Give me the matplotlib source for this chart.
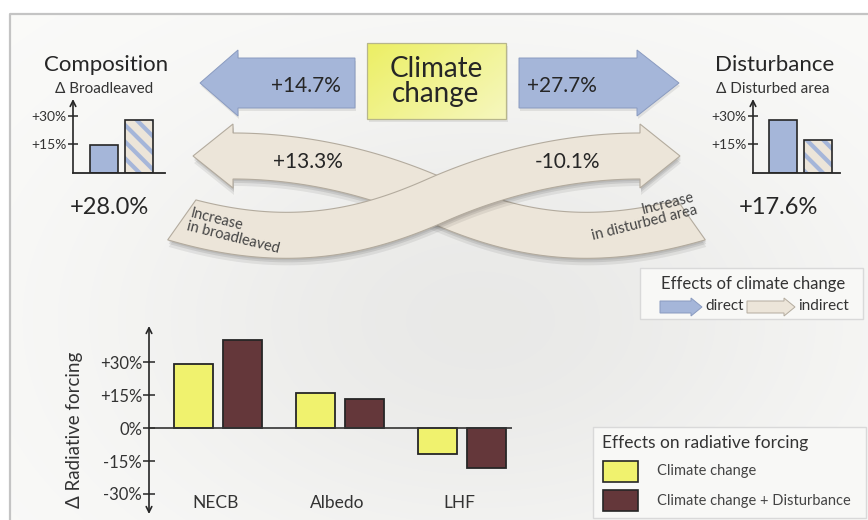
import numpy as np
import matplotlib.pyplot as plt
from matplotlib.patches import Polygon, Rectangle

plt.rcParams['font.family'] = ['Lato', 'DejaVu Sans']
plt.rcParams['hatch.linewidth'] = 3.0

W, H = 868, 520

# ---- data ----
direct_comp = 14.7       # climate change -> broadleaved
direct_dist = 27.7       # climate change -> disturbed area
indirect_comp = 13.3     # via disturbance
indirect_dist = -10.1    # via broadleaved
comp_bars = [direct_comp, direct_comp + indirect_comp]   # direct, total
dist_bars = [direct_dist, direct_dist + indirect_dist]
small_ticks = [15, 30]

rf_categories = ['NECB', 'Albedo', 'LHF']
rf_climate = [29, 16, -12]
rf_climate_dist = [40, 13, -18]
rf_ticks = [-30, -15, 0, 15, 30]

# colours
blue = '#a5b6d9'
blue_edge = '#8a9bc0'
beige = '#ece5d9'
beige_edge = '#b3ab9e'
yellow = '#f0f26e'
brown = '#64373a'
dark = '#262626'


def fmt(v):
    return '0%' if v == 0 else f'{v:+.0f}%'


fig = plt.figure(figsize=(W / 100, H / 100), dpi=100)
ax = fig.add_axes([0, 0, 1, 1])
ax.set_xlim(0, W)
ax.set_ylim(H, 0)
ax.axis('off')

# background gradient inside the frame
yy, xx = np.mgrid[14:H, 10:W]
g = 0.985 - 0.07 * np.exp(-(((xx - 480) / 380.0) ** 2 + ((yy - 320) / 250.0) ** 2))
bg = np.dstack([g, g, g * 0.993])
ax.imshow(bg, extent=(10, W, H, 14), aspect='auto', zorder=0)
ax.plot([10, 10, W], [H, 14, 14], color='#c4c4c4', lw=1.6, zorder=1)
ax.set_xlim(0, W)
ax.set_ylim(H, 0)


def px_axes(x0, y0, x1, y1):
    a = fig.add_axes([x0 / W, 1 - y1 / H, (x1 - x0) / W, (y1 - y0) / H])
    a.set_facecolor('none')
    return a


def bez(p0, p1, p2, p3, n=80):
    p0, p1, p2, p3 = [np.array(q, float) for q in (p0, p1, p2, p3)]
    t = np.linspace(0, 1, n)[:, None]
    pts = (1 - t) ** 3 * p0 + 3 * (1 - t) ** 2 * t * p1 + 3 * (1 - t) * t ** 2 * p2 + t ** 3 * p3
    d = 3 * (1 - t) ** 2 * (p1 - p0) + 6 * (1 - t) * t * (p2 - p1) + 3 * t ** 2 * (p3 - p2)
    return pts, d


def ribbon(segs, w, head_len, head_w, skew=2):
    P, D = [], []
    for s in segs:
        p, d = bez(*s)
        P.append(p)
        D.append(d)
    P = np.vstack(P)
    D = np.vstack(D)
    D = D / np.linalg.norm(D, axis=1)[:, None]
    N = np.column_stack([-D[:, 1], D[:, 0]])
    side_a = P + N * w / 2
    side_b = P - N * w / 2
    # slanted tail cut: lower corner reaches further back
    step = np.linalg.norm(P[1] - P[0])
    back = P[0] - D[0] * step * skew
    if N[0, 1] > 0:      # side_a is the lower side
        side_a = np.vstack([back + N[0] * w / 2, side_a])
        side_b = side_b[skew:]
    else:
        side_b = np.vstack([back - N[0] * w / 2, side_b])
        side_a = side_a[skew:]
    end, de, ne = P[-1], D[-1], N[-1]
    tip = end + de * head_len
    return np.vstack([side_a, end + ne * head_w / 2, tip, end - ne * head_w / 2, side_b[::-1]])


# ---- indirect (twisted) arrows ----
right_segs = [[(182, 220), (290, 250), (365, 232), (437, 200)],
              [(437, 200), (505, 170), (575, 156), (640, 156)]]
left_segs = [[(873 - x, y) for x, y in s] for s in right_segs]

for segs in (left_segs, right_segs):
    poly = ribbon(segs, 46, 40, 64)
    for off, al in ((7, 0.07), (4, 0.09), (2, 0.08)):
        ax.add_patch(Polygon(poly + [1, off], closed=True, fc='k', alpha=al, lw=0, zorder=2))
    ax.add_patch(Polygon(poly, closed=True, fc=beige, ec=beige_edge, lw=0.8, zorder=2))

ax.text(308, 162, f'{indirect_comp:+.1f}%', fontsize=15, ha='center', va='center', color=dark, zorder=3)
ax.text(567, 162, f'{indirect_dist:+.1f}%', fontsize=15, ha='center', va='center', color=dark, zorder=3)
ax.text(192, 206, 'Increase\nin broadleaved', fontsize=10.5, rotation=-14, rotation_mode='anchor',
        ha='left', va='top', color='#444', linespacing=1.0, zorder=3)
ax.text(692, 190, 'Increase\nin disturbed area', fontsize=10.5, rotation=14, rotation_mode='anchor',
        ha='right', va='top', color='#444', linespacing=1.0, multialignment='right', zorder=3)

# ---- direct arrows ----
left_blue = [(200, 83), (238, 50), (238, 58), (355, 58), (355, 108), (238, 108), (238, 116)]
right_blue = [(679, 83), (637, 50), (637, 58), (519, 58), (519, 108), (637, 108), (637, 116)]
for pts in (left_blue, right_blue):
    arr = np.array(pts, float)
    ax.add_patch(Polygon(arr + [1, 3], closed=True, fc='k', alpha=0.08, lw=0, zorder=2))
    ax.add_patch(Polygon(arr, closed=True, fc=blue, ec=blue_edge, lw=0.7, zorder=2))
ax.text(306, 86, f'{direct_comp:+.1f}%', fontsize=15, ha='center', va='center', color=dark, zorder=3)
ax.text(562, 86, f'{direct_dist:+.1f}%', fontsize=15, ha='center', va='center', color=dark, zorder=3)

# ---- climate change box ----
gy, gx = np.mgrid[0:1:40j, 0:1:60j]
tt = (gx * 0.6 + gy * 0.4)[..., None]
c0 = np.array([236, 239, 100]) / 255
c1 = np.array([246, 247, 190]) / 255
ax.add_patch(Rectangle((369, 46), 139, 76, fc='k', alpha=0.08, lw=0, zorder=2))
ax.imshow(c0 * (1 - tt) + c1 * tt, extent=(367, 506, 119, 43), aspect='auto', zorder=2.5)
ax.add_patch(Rectangle((367, 43), 139, 76, fill=False, ec='#b7b68c', lw=0.9, zorder=3))
ax.text(436, 77, 'Climate', fontsize=20, ha='center', va='baseline', color=dark, zorder=4)
ax.text(436, 102, 'change', fontsize=20, ha='center', va='baseline', color=dark, zorder=4)
ax.set_xlim(0, W)
ax.set_ylim(H, 0)

# ---- small charts ----
for title, sub, vals, box, xl, tx in (
        ('Composition', '\u0394 Broadleaved', comp_bars, (73, 99, 165, 173), (-0.886, 1.743), 106),
        ('Disturbance', '\u0394 Disturbed area', dist_bars, (753, 99, 840, 173), (-0.857, 1.629), 775)):
    a = px_axes(*box)
    a.set_xlim(*xl)
    a.set_ylim(0, 38.9)
    a.bar(0, vals[0], 0.8, color=blue, edgecolor=dark, lw=1.2)
    a.bar(1, vals[1], 0.8, color=beige, edgecolor=blue, hatch='\\\\', lw=0)
    a.bar(1, vals[1], 0.8, fill=False, edgecolor=dark, lw=1.2)
    for s in a.spines.values():
        s.set_visible(False)
    a.axhline(0, color=dark, lw=1.3, clip_on=False)
    a.annotate('', xy=(xl[0], 38.9), xytext=(xl[0], 0), annotation_clip=False,
               arrowprops=dict(arrowstyle='->', lw=1.2, color=dark, shrinkA=0, shrinkB=0))
    a.set_xticks([])
    a.set_yticks(small_ticks)
    a.set_yticklabels([fmt(v) for v in small_ticks])
    a.tick_params(axis='y', direction='inout', length=7, width=1.1, pad=1, labelsize=10,
                  labelcolor='#333', color=dark)
    ax.text(tx, 65, title, fontsize=16, ha='center', va='center', color=dark)
    ax.text(tx - 2, 89, sub, fontsize=11, ha='center', va='center', color='#333')
    ax.text(tx + 3, 208, f'{vals[1]:+.1f}%', fontsize=17, ha='center', va='center', color=dark)

# ---- radiative forcing chart ----
b = px_axes(149, 326, 512, 514)
b.set_xlim(-0.566, 2.41)
b.set_ylim(-39.1, 46.4)
x = np.arange(len(rf_categories))
b.bar(x - 0.2, rf_climate, 0.32, color=yellow, edgecolor=dark, lw=1.3, zorder=2)
b.bar(x + 0.2, rf_climate_dist, 0.32, color=brown, edgecolor=dark, lw=1.3, zorder=2)
for s in b.spines.values():
    s.set_visible(False)
b.axhline(0, color='#333', lw=1.2, zorder=3)
b.annotate('', xy=(-0.566, 46.4), xytext=(-0.566, -39.1), annotation_clip=False,
           arrowprops=dict(arrowstyle='<->', lw=1.2, color=dark, shrinkA=0, shrinkB=0))
b.set_xticks([])
b.set_yticks(rf_ticks)
b.set_yticklabels([fmt(v) for v in rf_ticks])
b.tick_params(axis='y', direction='inout', length=8, width=1.1, pad=1, labelsize=12,
              labelcolor='#333', color=dark)
for i, c in enumerate(rf_categories):
    b.text(i - 0.02, -34, c, fontsize=12.5, ha='center', va='center', color='#333')
b.set_ylabel('\u0394 Radiative forcing', fontsize=13.5, color='#333')
b.yaxis.set_label_coords(-0.182, 0.447)

# ---- legend: effects of climate change ----
ax.add_patch(Rectangle((640, 268), 223, 51, fc='#f8f8f6', ec='#d9d9d9', lw=1, zorder=2))
ax.text(753, 284, 'Effects of climate change', fontsize=12, ha='center', va='center', color='#333', zorder=3)
for x0, fc, ec, lab in ((660, blue, blue_edge, 'direct'), (747, beige, beige_edge, 'indirect')):
    L = 48 if lab == 'indirect' else 42
    hb = x0 + L - 11
    pts = [(x0, 301), (hb, 301), (hb, 298), (x0 + L, 307), (hb, 316), (hb, 313), (x0, 313)]
    ax.add_patch(Polygon(pts, closed=True, fc=fc, ec=ec, lw=0.7, zorder=3))
    ax.text(x0 + L + 3, 306, lab, fontsize=11, ha='left', va='center', color='#333', zorder=3)

# ---- legend: effects on radiative forcing ----
ax.add_patch(Rectangle((593, 427), 273, 91, fc='#f8f8f6', ec='#d9d9d9', lw=1, zorder=2))
ax.text(602, 443, 'Effects on radiative forcing', fontsize=12.5, ha='left', va='center', color='#333', zorder=3)
for yb, fc, lab in ((461, yellow, 'Climate change'), (490, brown, 'Climate change + Disturbance')):
    ax.add_patch(Rectangle((603, yb), 35, 21, fc=fc, ec=dark, lw=1.2, zorder=3))
    ax.text(657, yb + 10.5, lab, fontsize=10.5, ha='left', va='center', color='#444', zorder=3)

fig.savefig('out.png', dpi=100)
